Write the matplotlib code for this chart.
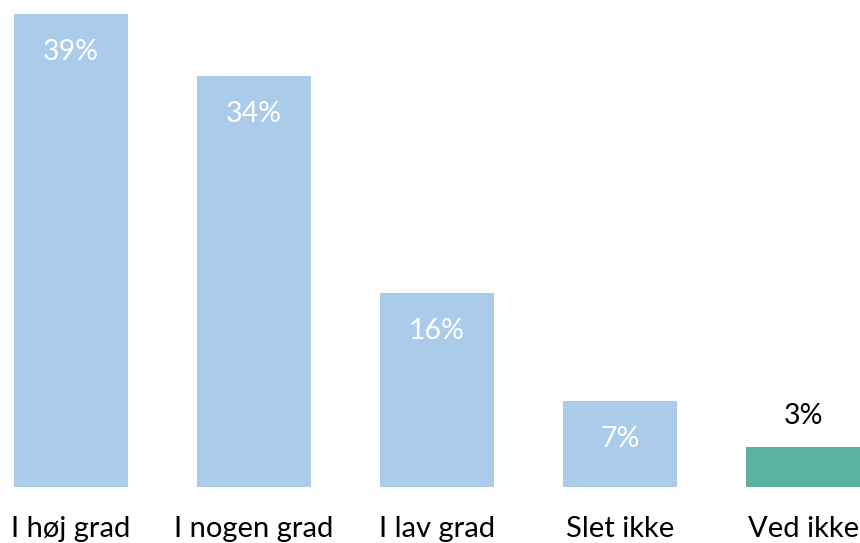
import numpy as np
import matplotlib.pyplot as plt

plt.rcParams['font.family'] = ['Lato', 'DejaVu Sans']

# Survey answers and share of respondents (%)
categories = ['I høj grad', 'I nogen grad', 'I lav grad', 'Slet ikke', 'Ved ikke']
values = [39.0, 33.9, 16.0, 7.1, 3.3]
colors = ['#abcbeb', '#abcbeb', '#abcbeb', '#abcbeb', '#5bb29d']

fig = plt.figure(figsize=(8.6, 5.43), dpi=100)
ax = fig.add_axes([0, 0.1031, 1, 0.8969])

x = np.arange(len(categories))
bars = ax.bar(x, values, width=0.623, color=colors)

ax.set_xlim(-0.388, 4.311)
ax.set_ylim(0, 40.15)

# labels: white inside the bar, black above the small one
for b, v in zip(bars, values):
    cx = b.get_x() + b.get_width() / 2
    if v > 5:
        ax.annotate(f'{v:.0f}%', (cx, v), xytext=(0, -27.5), textcoords='offset points',
                    ha='center', va='center', color='white', fontsize=20.5)
    else:
        ax.annotate(f'{v:.0f}%', (cx, v), xytext=(0, 22), textcoords='offset points',
                    ha='center', va='center', color='black', fontsize=20.5)

ax.set_xticks(x)
ax.set_xticklabels(categories, fontsize=21)
ax.tick_params(axis='x', length=0, pad=21)
ax.set_yticks([])
for s in ax.spines.values():
    s.set_visible(False)

fig.savefig('out.png', dpi=100)
